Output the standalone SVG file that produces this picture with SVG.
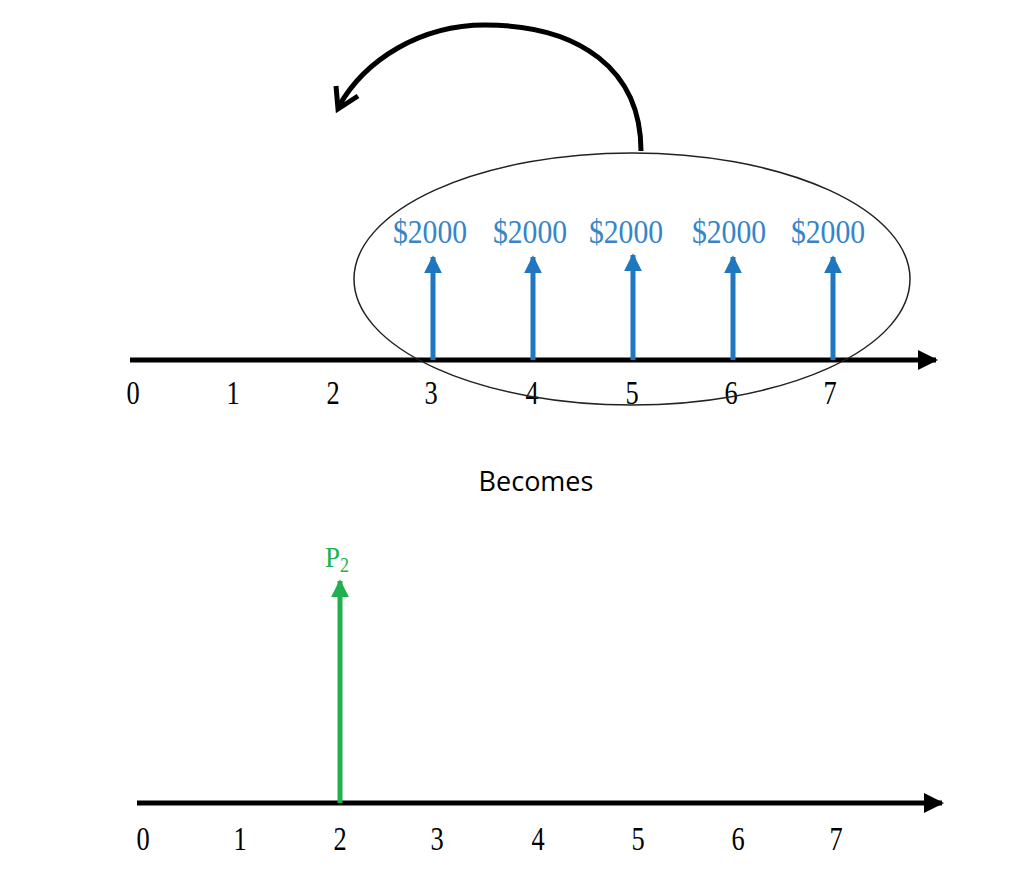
<svg xmlns="http://www.w3.org/2000/svg" width="1024" height="893" viewBox="0 0 1024 893">
<defs>
<style>
.axis{stroke:#000;stroke-width:5;fill:none}
.num{font-family:"Liberation Serif",serif;font-size:33px;fill:#000;text-anchor:middle}
.amt{font-family:"Liberation Serif",serif;font-size:33px;fill:#3585c8;text-anchor:middle}
.cf{stroke:#1f77c0;stroke-width:5;fill:none}
.pv{stroke:#20b14f;stroke-width:5;fill:none}
</style>
<marker id="ah" viewBox="0 0 10 10" refX="9" refY="5" markerWidth="4" markerHeight="4" orient="auto" markerUnits="strokeWidth"><path d="M0,0 L10,5 L0,10 z" fill="#000"/></marker>
<marker id="bh" viewBox="0 0 10 10" refX="9" refY="5" markerWidth="3.6" markerHeight="3.6" orient="auto" markerUnits="strokeWidth"><path d="M0,0 L10,5 L0,10 z" fill="#1f77c0"/></marker>
<marker id="gh" viewBox="0 0 10 10" refX="9" refY="5" markerWidth="3.6" markerHeight="3.6" orient="auto" markerUnits="strokeWidth"><path d="M0,0 L10,5 L0,10 z" fill="#20b14f"/></marker>
</defs>
<rect width="1024" height="893" fill="#fff"/>
<g id="top-timeline">
<line class="axis" x1="130" y1="360" x2="936" y2="360" marker-end="url(#ah)"/>
<text class="num" transform="translate(133,404) scale(0.8,1)">0</text>
<text class="num" transform="translate(233,404) scale(0.8,1)">1</text>
<text class="num" transform="translate(333,404) scale(0.8,1)">2</text>
<text class="num" transform="translate(431,404) scale(0.8,1)">3</text>
<text class="num" transform="translate(532,404) scale(0.8,1)">4</text>
<text class="num" transform="translate(632,404) scale(0.8,1)">5</text>
<text class="num" transform="translate(731,404) scale(0.8,1)">6</text>
<text class="num" transform="translate(830,404) scale(0.8,1)">7</text>
</g>
<g id="cashflows">
<line class="cf" x1="433" y1="360" x2="433" y2="257" marker-end="url(#bh)"/>
<line class="cf" x1="533" y1="360" x2="533" y2="257" marker-end="url(#bh)"/>
<line class="cf" x1="633" y1="360" x2="633" y2="255" marker-end="url(#bh)"/>
<line class="cf" x1="733" y1="360" x2="733" y2="257" marker-end="url(#bh)"/>
<line class="cf" x1="833" y1="360" x2="833" y2="257" marker-end="url(#bh)"/>
<text class="amt" transform="translate(430,243) scale(0.9,1)">$2000</text>
<text class="amt" transform="translate(530,243) scale(0.9,1)">$2000</text>
<text class="amt" transform="translate(626,243) scale(0.9,1)">$2000</text>
<text class="amt" transform="translate(729,243) scale(0.9,1)">$2000</text>
<text class="amt" transform="translate(828,243) scale(0.9,1)">$2000</text>
</g>
<g id="group-ellipse">
<ellipse cx="632" cy="279" rx="278" ry="126" fill="none" stroke="#222" stroke-width="1.5"/>
</g>
<g id="connectors">
<path d="M641,151 C641,70 580,25 485,25 C420,25 365,60 339,106" fill="none" stroke="#000" stroke-width="5"/>
<path d="M336,86 L338,109 L358,96" fill="none" stroke="#000" stroke-width="5" stroke-linejoin="miter"/>
</g>
<g id="becomes">
<text x="536" y="491" font-family="'Open Sans',sans-serif" font-size="27" fill="#000" text-anchor="middle">Becomes</text>
</g>
<g id="bottom-timeline">
<line class="axis" x1="137" y1="803" x2="942" y2="803" marker-end="url(#ah)"/>
<text class="num" transform="translate(143,850) scale(0.8,1)">0</text>
<text class="num" transform="translate(240,850) scale(0.8,1)">1</text>
<text class="num" transform="translate(340,850) scale(0.8,1)">2</text>
<text class="num" transform="translate(437,850) scale(0.8,1)">3</text>
<text class="num" transform="translate(538,850) scale(0.8,1)">4</text>
<text class="num" transform="translate(638,850) scale(0.8,1)">5</text>
<text class="num" transform="translate(738,850) scale(0.8,1)">6</text>
<text class="num" transform="translate(836,850) scale(0.8,1)">7</text>
</g>
<g id="p2">
<line class="pv" x1="340" y1="803" x2="340" y2="581" marker-end="url(#gh)"/>
<text transform="translate(337,567) scale(0.9,1)" font-family="'Liberation Serif',serif" font-size="30" fill="#20b14f" text-anchor="middle">P<tspan font-size="20" dy="5">2</tspan></text>
</g>
</svg>
